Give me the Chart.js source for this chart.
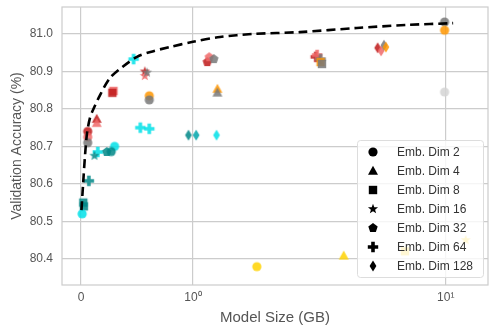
<!DOCTYPE html>
<html>
<head>
<meta charset="utf-8">
<script src="https://cdn.jsdelivr.net/npm/chart.js@4.4.1/dist/chart.umd.min.js"></script>
<style>
  html, body { margin: 0; background: #fff; overflow: hidden; }
  #wrap { position: absolute; left: 0; top: 0; width: 489px; height: 328px; }
</style>
</head>
<body>
<div id="wrap"><canvas id="canvas"></canvas></div>
<script>
// axis ticks
const xTickVals = [0, 1, 10];
const xTickLabels = ['0', '10\u2070', '10\u00b9'];
const yTickVals = [80.4, 80.5, 80.6, 80.7, 80.8, 80.9, 81.0];

const legendNames = ['Emb. Dim 2', 'Emb. Dim 4', 'Emb. Dim 8', 'Emb. Dim 16', 'Emb. Dim 32', 'Emb. Dim 64', 'Emb. Dim 128'];
const shapes = ['circle', 'triangle', 'square', 'star', 'pentagon', 'plus', 'diamond'];

// Emb. Dim 2 (circles)
const dim2X = [0.01, 0.30, 0.06, 0.06, 0.06, 0.61, 0.61, 1.79, 9.9, 9.9, 9.9, 0.27];
const dim2Y = [80.52, 80.70, 80.74, 80.725, 80.71, 80.835, 80.824, 80.379, 81.032, 81.01, 80.845, 80.686];
const dim2C = ['cyan', 'cyan', 'red', 'salmon', 'gray', 'orange', 'gray', 'gold', 'gray', 'orange', 'lgray', 'teal'];
// Emb. Dim 4 (triangles)
const dim4X = [0.14, 0.14, 1.25, 1.25, 3.95];
const dim4Y = [80.773, 80.762, 80.853, 80.843, 80.408];
const dim4C = ['red', 'salmon', 'orange', 'gray', 'gold'];
// Emb. Dim 8 (squares)
const dim8X = [0.02, 0.025, 0.29, 0.28, 3.2, 3.24, 6.9];
const dim8Y = [80.55, 80.54, 80.848, 80.843, 80.925, 80.92, 80.42];
const dim8C = ['teal', 'teal', 'salmon', 'red', 'orange', 'gray', 'gold'];
// Emb. Dim 16 (stars)
const dim16X = [0.57, 0.57, 0.59, 0.12, 12.0];
const dim16Y = [80.9, 80.888, 80.897, 80.675, 80.45];
const dim16C = ['red', 'salmon', 'gray', 'teal', 'gold'];
// Emb. Dim 32 (pentagons)
const dim32X = [1.14, 1.16, 1.21, 0.23];
const dim32Y = [80.925, 80.938, 80.933, 80.685];
const dim32C = ['red', 'salmon', 'gray', 'teal'];
// Emb. Dim 64 (plus)
const dim64X = [0.07, 0.15, 0.47, 0.53, 0.61, 3.06, 3.1, 3.2];
const dim64Y = [80.608, 80.685, 80.933, 80.75, 80.747, 80.939, 80.944, 80.933];
const dim64C = ['teal', 'cyan', 'cyan', 'cyan', 'cyan', 'red', 'salmon', 'gray'];
// Emb. Dim 128 (diamonds)
const dim128X = [0.96, 1.03, 1.24, 5.38, 5.55, 5.7, 5.8];
const dim128Y = [80.73, 80.73, 80.73, 80.963, 80.955, 80.97, 80.965];
const dim128C = ['teal', 'teal2', 'cyan', 'red', 'salmon', 'gray', 'orange'];

// fitted curve
const curveX = [0.004, 0.018, 0.036, 0.054, 0.08, 0.107, 0.17, 0.26, 0.37, 0.5, 0.62, 0.79, 1.0, 1.28, 1.73, 2.65, 4.45, 7.0, 10.7];
const curveY = [80.53, 80.597, 80.677, 80.736, 80.776, 80.797, 80.837, 80.883, 80.912, 80.939, 80.952, 80.965, 80.979, 80.992, 81.0, 81.005, 81.016, 81.024, 81.029];

const colors = {
    cyan: 'rgb(0,225,232)', teal: 'rgb(0,135,135)', teal2: 'rgb(0,165,170)',
    red: 'rgb(190,25,25)', salmon: 'rgb(240,105,105)', gray: 'rgb(120,120,120)',
    orange: 'rgb(255,150,0)', gold: 'rgb(255,210,0)', lgray: 'rgb(212,212,212)'
};

const allX = [dim2X, dim4X, dim8X, dim16X, dim32X, dim64X, dim128X];
const allY = [dim2Y, dim4Y, dim8Y, dim16Y, dim32Y, dim64Y, dim128Y];
const allC = [dim2C, dim4C, dim8C, dim16C, dim32C, dim64C, dim128C];

// marker images
const markerCache = {};
function makeMarker(shape, color, alpha) {
    const key = shape + color + alpha;
    if (markerCache[key]) return markerCache[key];
    const s = 16;
    const c = document.createElement('canvas');
    c.width = s; c.height = s;
    const g = c.getContext('2d');
    g.globalAlpha = alpha;
    g.fillStyle = color;
    g.translate(s / 2, s / 2);
    g.beginPath();
    if (shape === 'circle') {
        g.arc(0, 0, 4.6, 0, Math.PI * 2);
    } else if (shape === 'triangle') {
        g.moveTo(0, -5.2); g.lineTo(5, 3.8); g.lineTo(-5, 3.8);
    } else if (shape === 'square') {
        g.rect(-4.2, -4.2, 8.4, 8.4);
    } else if (shape === 'star') {
        for (let i = 0; i < 10; i++) {
            const r = i % 2 ? 2.2 : 5.3;
            const a = -Math.PI / 2 + i * Math.PI / 5;
            g.lineTo(r * Math.cos(a), r * Math.sin(a));
        }
    } else if (shape === 'pentagon') {
        for (let i = 0; i < 5; i++) {
            const a = -Math.PI / 2 + i * 2 * Math.PI / 5;
            g.lineTo(4.9 * Math.cos(a), 4.9 * Math.sin(a));
        }
    } else if (shape === 'plus') {
        const a = 5.2, b = 1.8;
        g.moveTo(-b, -a); g.lineTo(b, -a); g.lineTo(b, -b); g.lineTo(a, -b); g.lineTo(a, b);
        g.lineTo(b, b); g.lineTo(b, a); g.lineTo(-b, a); g.lineTo(-b, b); g.lineTo(-a, b);
        g.lineTo(-a, -b); g.lineTo(-b, -b);
    } else if (shape === 'diamond') {
        g.moveTo(0, -5.4); g.lineTo(3.4, 0); g.lineTo(0, 5.4); g.lineTo(-3.4, 0);
    }
    g.closePath();
    g.fill();
    markerCache[key] = c;
    return c;
}

// symlog-like x scale
const LIN = 112 / 253;
function tf(v) { return v <= 1 ? v * LIN : LIN + Math.log10(v); }
function itf(t) { return t <= LIN ? t / LIN : Math.pow(10, t - LIN); }

class SymlogScale extends Chart.LinearScale {
    buildTicks() {
        return xTickVals.map(v => ({ value: v }));
    }
    configure() {
        super.configure();
        this._tmin = tf(this.min);
        this._tmax = tf(this.max);
    }
    getPixelForValue(v) {
        return this.getPixelForDecimal((tf(v) - this._tmin) / (this._tmax - this._tmin));
    }
    getValueForPixel(p) {
        return itf(this._tmin + this.getDecimalForPixel(p) * (this._tmax - this._tmin));
    }
}
SymlogScale.id = 'symlog';
SymlogScale.defaults = Chart.LinearScale.defaults;
Chart.register(SymlogScale);

const FONT = "'Liberation Sans', Arial, sans-serif";

const datasets = [{
    label: 'fit',
    data: curveX.map((x, i) => ({ x: x, y: curveY[i] })),
    showLine: true,
    borderColor: '#000',
    borderWidth: 2.6,
    borderDash: [9, 5],
    pointRadius: 0,
    tension: 0.3,
    order: 0
}];
for (let k = 0; k < 7; k++) {
    datasets.push({
        label: legendNames[k],
        data: allX[k].map((x, i) => ({ x: x, y: allY[k][i] })),
        pointStyle: allC[k].map(c => makeMarker(shapes[k], colors[c], 0.85)),
        pointRadius: 5,
        order: 1
    });
}

// plot frame + legend
const framePlugin = {
    id: 'frame',
    beforeDatasetsDraw(chart) {
        const a = chart.chartArea, ctx = chart.ctx;
        ctx.save();
        ctx.strokeStyle = '#cccccc';
        ctx.lineWidth = 1.2;
        ctx.strokeRect(a.left, a.top, a.right - a.left, a.bottom - a.top);
        ctx.restore();
    },
    afterDraw(chart) {
        const ctx = chart.ctx;
        const bx = 357, by = 140, bw = 126, bh = 137;
        ctx.save();
        ctx.fillStyle = 'rgba(255,255,255,0.8)';
        ctx.strokeStyle = '#dddddd';
        ctx.lineWidth = 1;
        ctx.beginPath();
        ctx.roundRect(bx + 0.5, by + 0.5, bw, bh, 3);
        ctx.fill();
        ctx.stroke();
        ctx.font = '12px ' + FONT;
        ctx.fillStyle = '#333';
        ctx.textBaseline = 'middle';
        for (let k = 0; k < 7; k++) {
            const y = 152 + k * 19;
            const m = makeMarker(shapes[k], '#000', 1);
            ctx.drawImage(m, 373 - 8, y - 8);
            ctx.fillText(legendNames[k], 397, y + 0.5);
        }
        ctx.restore();
    }
};

new Chart(document.getElementById('canvas').getContext('2d'), {
    type: 'scatter',
    data: { datasets: datasets },
    plugins: [framePlugin],
    options: {
        responsive: true,
        maintainAspectRatio: false,
        animation: false,
        layout: { autoPadding: false, padding: { top: 7, right: 1, left: 0, bottom: 0 } },
        plugins: {
            legend: { display: false },
            tooltip: { enabled: false }
        },
        scales: {
            x: {
                type: 'symlog',
                min: -0.17,
                max: 14.7,
                grid: { color: '#cccccc', lineWidth: 1.2, drawTicks: false },
                border: { display: false },
                ticks: {
                    color: '#555',
                    font: { family: FONT, size: 12 },
                    padding: 5,
                    maxRotation: 0,
                    callback: function (value, index) { return xTickLabels[index]; }
                },
                title: {
                    display: true,
                    text: 'Model Size (GB)',
                    color: '#555',
                    font: { family: FONT, size: 15 },
                    padding: { top: 0, bottom: 1 }
                },
                afterFit: function (scale) {
                    scale.height = 43;
                    scale.paddingLeft = 0;
                    scale.paddingRight = 0;
                }
            },
            y: {
                min: 80.33,
                max: 81.072,
                grid: { color: '#cccccc', lineWidth: 1.2, drawTicks: false },
                border: { display: false },
                afterBuildTicks: function (scale) {
                    scale.ticks = yTickVals.map(v => ({ value: v }));
                },
                ticks: {
                    color: '#555',
                    font: { family: FONT, size: 12 },
                    padding: 9,
                    callback: function (value) { return value.toFixed(1); }
                },
                title: {
                    display: true,
                    text: 'Validation Accuracy (%)',
                    color: '#555',
                    font: { family: FONT, size: 14 },
                    padding: { top: 9, bottom: 0 }
                },
                afterFit: function (scale) {
                    scale.width = 62;
                    scale.paddingTop = 0;
                    scale.paddingBottom = 0;
                }
            }
        }
    }
});
</script>
</body>
</html>
